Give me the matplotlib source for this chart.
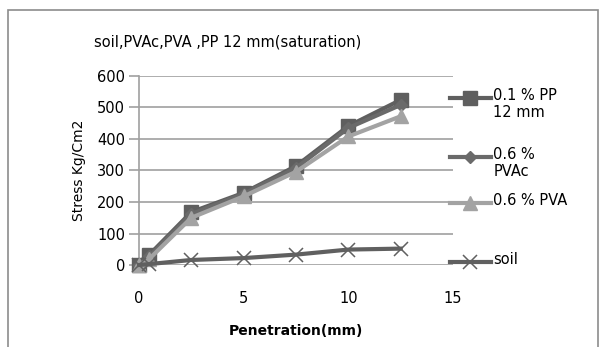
import matplotlib.pyplot as plt
from matplotlib.patches import Rectangle
from matplotlib.lines import Line2D

plt.rcParams['font.family'] = ['DejaVu Sans']

penetration = [0, 0.5, 2.5, 5, 7.5, 10, 12.5]
pp_12mm = [0, 33, 168, 229, 314, 441, 524]
pvac = [0, 28, 162, 226, 308, 435, 508]
pva = [0, 20, 150, 218, 296, 408, 472]
soil = [0, 3, 16, 22, 33, 49, 52]

labels = ['0.1 % PP\n12 mm', '0.6 %\nPVAc', '0.6 % PVA', 'soil']

fig = plt.figure(figsize=(6.03, 3.47), dpi=100)
fig.patches.append(Rectangle((0.014, -0.1), 0.978, 1.071, transform=fig.transFigure,
                             fill=False, edgecolor='#8c8c8c', lw=1.2))
ax = fig.add_axes([0.2305, 0.2363, 0.5207, 0.5447])

styles = [
    dict(color='#5f5f5f', marker='s', ms=10),
    dict(color='#6a6a6a', marker='D', ms=6.5),
    dict(color='#a3a3a3', marker='^', ms=10),
    dict(color='#606060', marker='x', ms=10, mew=1.1),
]
series = [pp_12mm, pvac, pva, soil]
for vals, st in zip(series, styles):
    ax.plot(penetration, vals, lw=3, zorder=4, clip_on=False, **st)

ax.set_xlim(0, 15)
ax.set_ylim(0, 600)
ax.set_xticks([0, 5, 10, 15])
ax.set_yticks(range(0, 601, 100))
ax.grid(axis='y', color='#a0a0a0', lw=1.2)
ax.set_axisbelow(True)
for s in ['top', 'right', 'bottom']:
    ax.spines[s].set_visible(False)
ax.spines['left'].set_color('#a0a0a0')
ax.spines['left'].set_linewidth(1.2)
ax.tick_params(axis='y', length=7, color='#a0a0a0', width=1.2, labelsize=10.5, pad=3)
ax.tick_params(axis='x', length=0, labelsize=10.5, pad=19)

ax.set_ylabel('Stress Kg/Cm2', fontsize=10, labelpad=8)
ax.set_xlabel('Penetration(mm)', fontsize=10, fontweight='bold', labelpad=13)
fig.text(0.156, 0.866, 'soil,PVAc,PVA ,PP 12 mm(saturation)', fontsize=10.5)

# legend drawn by hand to match the spacing of the original
legend_y = [0.718, 0.548, 0.415, 0.245]
for lab, st, y in zip(labels, styles, legend_y):
    fig.add_artist(Line2D([0.746, 0.78, 0.815], [y, y, y], lw=3, markevery=[1],
                          transform=fig.transFigure, **st))
    fig.text(0.818, y + 0.028, lab, fontsize=10.5, va='top', ha='left',
             linespacing=1.15, transform=fig.transFigure)

fig.savefig('out.png', dpi=100)
